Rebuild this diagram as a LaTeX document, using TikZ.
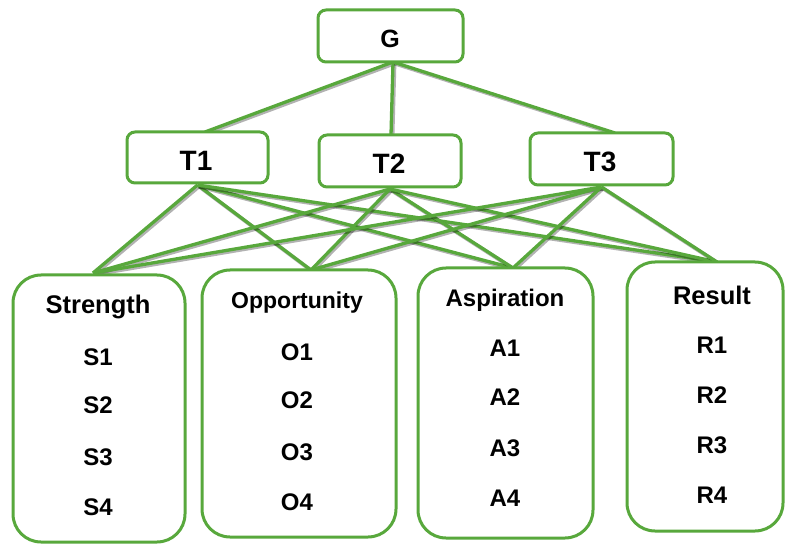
\documentclass[tikz,border=0pt]{standalone}
\usepackage{fontspec}
\setmainfont{Liberation Sans}
\usetikzlibrary{backgrounds}
\definecolor{leaf}{RGB}{88,168,60}
\tikzset{
  box/.style={draw=leaf, line width=3pt, fill=white, rounded corners=8pt,
    inner sep=0pt, outer sep=0pt},
  bigbox/.style={box, rounded corners=28pt},
  link/.style={draw=leaf, line width=3.3pt,
    preaction={draw=black, opacity=0.3, line width=3.8pt,
      transform canvas={shift={(1.5pt,-1.5pt)}}}},
  goal/.style={font=\fontsize{25}{30}\selectfont\bfseries},
  tier/.style={font=\fontsize{28}{33}\selectfont\bfseries},
  head/.style={font=\fontsize{#1}{29}\selectfont\bfseries},
  head/.default=24,
  item/.style={font=\fontsize{24}{28}\selectfont\bfseries}
}
\begin{document}
\begin{tikzpicture}[x=1pt,y=-1pt]
\useasboundingbox (0,0) rectangle (787,545);

% goal and tier boxes
\node[box, minimum width=145pt, minimum height=52pt] (G)  at (390.5,36) {};
\node[box, minimum width=141pt, minimum height=51pt] (T1) at (197.5,157.5) {};
\node[box, minimum width=142pt, minimum height=52pt] (T2) at (390,161) {};
\node[box, minimum width=143pt, minimum height=52pt] (T3) at (601.5,159) {};
\node[goal] (gG)  at (390,39)  {G};
\node[tier] (gT1) at (196,161) {T1};
\node[tier] (gT2) at (389,164) {T2};
\node[tier] (gT3) at (600,162) {T3};

% category boxes
\node[bigbox, minimum width=172pt, minimum height=267pt] (S) at (99,408.5) {};
\node[bigbox, minimum width=194pt, minimum height=267pt] (O) at (299,403.5) {};
\node[bigbox, minimum width=175pt, minimum height=270pt] (A) at (505.5,403) {};
\node[bigbox, minimum width=156pt, minimum height=269pt] (R) at (705,396.5) {};

% category contents
\node[head=25.5] (hS) at (98,307) {Strength};
\node[item] (s1) at (98,357) {S1};
\node[item] (s2) at (98,405) {S2};
\node[item] (s3) at (98,457) {S3};
\node[item] (s4) at (98,507) {S4};

\node[head=23] (hO) at (297,303) {Opportunity};
\node[item] (o1) at (297,352) {O1};
\node[item] (o2) at (297,400) {O2};
\node[item] (o3) at (297,452) {O3};
\node[item] (o4) at (297,502) {O4};

\node[head=24] (hA) at (505,300) {Aspiration};
\node[item] (a1) at (505,348) {A1};
\node[item] (a2) at (505,397) {A2};
\node[item] (a3) at (505,448) {A3};
\node[item] (a4) at (505,498) {A4};

\node[head=25.5] (hR) at (712,295) {Result};
\node[item] (r1) at (712,345) {R1};
\node[item] (r2) at (712,395) {R2};
\node[item] (r3) at (712,445) {R3};
\node[item] (r4) at (712,495) {R4};

% attachment points of the connectors
\coordinate (gb)  at ([xshift=2.5pt]G.south);
\coordinate (t1t) at ([xshift=7.5pt]T1.north);
\coordinate (t2t) at ([xshift=1pt]T2.north);
\coordinate (t3t) at ([xshift=13.5pt]T3.north);
\coordinate (t1b) at ([yshift=-2pt]T1.south);
\coordinate (t2b) at ([yshift=-2pt]T2.south);
\coordinate (t3b) at ([yshift=-2pt]T3.south);
\coordinate (st)  at ([xshift=-6pt,yshift=2pt]S.north);
\coordinate (ot)  at ([xshift=12pt]O.north);
\coordinate (at)  at ([xshift=7.5pt]A.north);
\coordinate (rt)  at ([xshift=12pt]R.north);

\begin{scope}[on background layer]
  \foreach \t in {t1t,t2t,t3t}
    \draw[link] (gb) -- (\t);
  \foreach \t in {t1b,t2b,t3b}
    \foreach \c in {st,ot,at,rt}
      \draw[link] (\t) -- (\c);
\end{scope}
\end{tikzpicture}
\end{document}
